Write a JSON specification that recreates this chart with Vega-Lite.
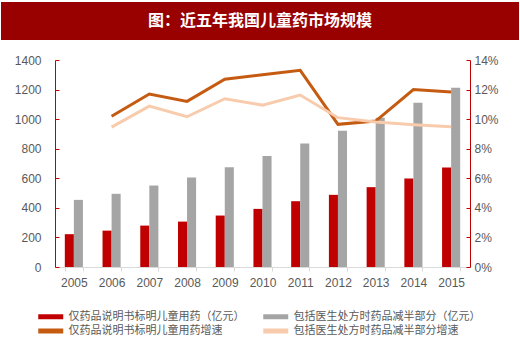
{
  "$schema": "https://vega.github.io/schema/vega-lite/v6.json",
  "padding": {"left": 1, "top": 2, "right": 0, "bottom": 0},
  "spacing": 14,
  "config": {"view": {"stroke": null}, "font": "Noto Sans CJK SC"},
  "resolve": {"legend": {"color": "independent"}},
  "datasets": {
    "bars": [
      {"year": "2005", "series": "仅药品说明书标明儿童用药（亿元）", "value": 222},
      {"year": "2005", "series": "包括医生处方时药品减半部分（亿元）", "value": 454},
      {"year": "2006", "series": "仅药品说明书标明儿童用药（亿元）", "value": 246},
      {"year": "2006", "series": "包括医生处方时药品减半部分（亿元）", "value": 495},
      {"year": "2007", "series": "仅药品说明书标明儿童用药（亿元）", "value": 280},
      {"year": "2007", "series": "包括医生处方时药品减半部分（亿元）", "value": 551},
      {"year": "2008", "series": "仅药品说明书标明儿童用药（亿元）", "value": 307},
      {"year": "2008", "series": "包括医生处方时药品减半部分（亿元）", "value": 605},
      {"year": "2009", "series": "仅药品说明书标明儿童用药（亿元）", "value": 348},
      {"year": "2009", "series": "包括医生处方时药品减半部分（亿元）", "value": 675},
      {"year": "2010", "series": "仅药品说明书标明儿童用药（亿元）", "value": 393},
      {"year": "2010", "series": "包括医生处方时药品减半部分（亿元）", "value": 750},
      {"year": "2011", "series": "仅药品说明书标明儿童用药（亿元）", "value": 445},
      {"year": "2011", "series": "包括医生处方时药品减半部分（亿元）", "value": 835},
      {"year": "2012", "series": "仅药品说明书标明儿童用药（亿元）", "value": 488},
      {"year": "2012", "series": "包括医生处方时药品减半部分（亿元）", "value": 921},
      {"year": "2013", "series": "仅药品说明书标明儿童用药（亿元）", "value": 540},
      {"year": "2013", "series": "包括医生处方时药品减半部分（亿元）", "value": 1010},
      {"year": "2014", "series": "仅药品说明书标明儿童用药（亿元）", "value": 598},
      {"year": "2014", "series": "包括医生处方时药品减半部分（亿元）", "value": 1111},
      {"year": "2015", "series": "仅药品说明书标明儿童用药（亿元）", "value": 673},
      {"year": "2015", "series": "包括医生处方时药品减半部分（亿元）", "value": 1213}
    ],
    "lines": [
      {"year": "2006", "series": "仅药品说明书标明儿童用药增速", "rate": 0.102},
      {"year": "2007", "series": "仅药品说明书标明儿童用药增速", "rate": 0.117},
      {"year": "2008", "series": "仅药品说明书标明儿童用药增速", "rate": 0.112},
      {"year": "2009", "series": "仅药品说明书标明儿童用药增速", "rate": 0.127},
      {"year": "2010", "series": "仅药品说明书标明儿童用药增速", "rate": 0.130},
      {"year": "2011", "series": "仅药品说明书标明儿童用药增速", "rate": 0.133},
      {"year": "2012", "series": "仅药品说明书标明儿童用药增速", "rate": 0.0965},
      {"year": "2013", "series": "仅药品说明书标明儿童用药增速", "rate": 0.0987},
      {"year": "2014", "series": "仅药品说明书标明儿童用药增速", "rate": 0.120},
      {"year": "2015", "series": "仅药品说明书标明儿童用药增速", "rate": 0.1183},
      {"year": "2006", "series": "包括医生处方时药品减半部分增速", "rate": 0.0946},
      {"year": "2007", "series": "包括医生处方时药品减半部分增速", "rate": 0.1088},
      {"year": "2008", "series": "包括医生处方时药品减半部分增速", "rate": 0.1016},
      {"year": "2009", "series": "包括医生处方时药品减半部分增速", "rate": 0.1138},
      {"year": "2010", "series": "包括医生处方时药品减半部分增速", "rate": 0.1095},
      {"year": "2011", "series": "包括医生处方时药品减半部分增速", "rate": 0.1163},
      {"year": "2012", "series": "包括医生处方时药品减半部分增速", "rate": 0.101},
      {"year": "2013", "series": "包括医生处方时药品减半部分增速", "rate": 0.098},
      {"year": "2014", "series": "包括医生处方时药品减半部分增速", "rate": 0.0962},
      {"year": "2015", "series": "包括医生处方时药品减半部分增速", "rate": 0.0948}
    ],
    "banner": [{"t": "图：近五年我国儿童药市场规模"}]
  },
  "vconcat": [
    {
      "width": 518,
      "height": 38,
      "view": {"fill": "#990000", "stroke": null},
      "data": {"name": "banner"},
      "mark": {"type": "text", "color": "#ffffff", "fontSize": 16, "fontWeight": "bold", "font": "Noto Sans CJK SC"},
      "encoding": {"text": {"field": "t"}}
    },
    {
      "spacing": 0,
      "resolve": {"legend": {"color": "independent"}},
      "hconcat": [
        {
          "width": 1,
          "height": 1,
          "data": {"values": [{"s": ""}]},
          "mark": {"type": "text", "opacity": 0},
          "encoding": {"text": {"field": "s"}}
        },
        {
          "width": 415,
          "height": 207,
          "layer": [
            {
              "data": {"name": "bars"},
              "mark": {"type": "bar"},
              "encoding": {
                "x": {
                  "field": "year", "type": "ordinal",
                  "scale": {"paddingInner": 0.52, "paddingOuter": 0.26},
                  "axis": {
                    "title": null, "labelAngle": 0, "domainColor": "#D9D9D9", "tickColor": "#D9D9D9",
                    "tickBand": "extent", "tickSize": 4, "labelColor": "#595959", "labelFontSize": 12,
                    "labelFont": "Liberation Sans", "labelPadding": 6
                  }
                },
                "xOffset": {
                  "field": "series",
                  "sort": ["仅药品说明书标明儿童用药（亿元）", "包括医生处方时药品减半部分（亿元）"],
                  "scale": {"paddingInner": 0}
                },
                "y": {
                  "field": "value", "type": "quantitative",
                  "scale": {"domain": [0, 1400]},
                  "axis": {
                    "orient": "left", "title": null, "grid": false, "format": "d", "values": [0, 200, 400, 600, 800, 1000, 1200, 1400],
                    "domainColor": "#C00000", "tickColor": "#C00000", "tickSize": -4, "labelPadding": 18,
                    "labelColor": "#595959", "labelFontSize": 12, "labelFont": "Liberation Sans", "minExtent": 53
                  }
                },
                "color": {
                  "field": "series", "type": "nominal",
                  "scale": {
                    "domain": ["仅药品说明书标明儿童用药（亿元）", "包括医生处方时药品减半部分（亿元）", "仅药品说明书标明儿童用药增速", "包括医生处方时药品减半部分增速"],
                    "range": ["#C00000", "#A5A5A5", "#C55A11", "#F8CBAD"]
                  },
                  "legend": {
                    "title": null, "orient": "none", "legendX": -17, "legendY": 250, "columns": 2,
                    "direction": "horizontal", "symbolType": "M-1,-0.4H3V0.4H-1Z", "symbolSize": 156,
                    "symbolStrokeWidth": 0, "labelOffset": 17.5, "columnPadding": 18, "rowPadding": 2.5,
                    "labelFont": "Noto Sans CJK SC", "labelFontSize": 11, "labelColor": "#595959", "labelLimit": 300
                  }
                }
              }
            },
            {
              "data": {"name": "lines"},
              "mark": {"type": "line", "strokeWidth": 3},
              "encoding": {
                "x": {"field": "year", "type": "ordinal"},
                "y": {
                  "field": "rate", "type": "quantitative",
                  "scale": {"domain": [0, 0.14]},
                  "axis": {
                    "orient": "right", "title": null, "grid": false, "format": ".0%",
                    "values": [0, 0.02, 0.04, 0.06, 0.08, 0.1, 0.12, 0.14],
                    "domainColor": "#C00000", "tickColor": "#C00000", "tickSize": -4, "labelPadding": 8,
                    "labelColor": "#595959", "labelFontSize": 12, "labelFont": "Liberation Sans"
                  }
                },
                "color": {"field": "series", "type": "nominal"}
              }
            }
          ],
          "resolve": {"scale": {"y": "independent"}}
        }
      ]
    }
  ]
}
